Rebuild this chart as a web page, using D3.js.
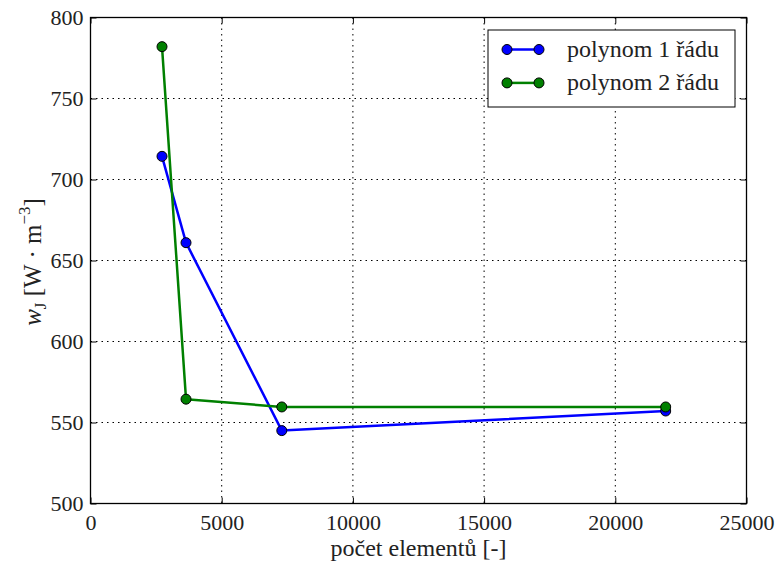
<!DOCTYPE html>
<html>
<head>
<script src="https://cdn.jsdelivr.net/npm/d3@7"></script>
</head>
<body style="margin:0">
<div id="chart"></div>
<script>
// data
var elements = [2725, 3640, 7290, 21920];
var order1 = [714.3, 661, 545, 557.1];
var order2 = [782, 564.4, 559.6, 559.6];
var seriesNames = ['polynom 1 řádu', 'polynom 2 řádu'];
var seriesColors = ['#0000ff', '#008000'];
var xTicks = [0, 5000, 10000, 15000, 20000, 25000];
var yTicks = [500, 550, 600, 650, 700, 750, 800];

var margin = { top: 17.5, left: 90.5, bottom: 66.5, right: 31.5 },
    width = 778 - margin.left - margin.right,
    height = 570 - margin.top - margin.bottom;

var root = d3.select('#chart').append('svg')
    .attr('width', 778)
    .attr('height', 570)
    .attr('font-family', 'Liberation Serif');
var svg = root.append('g')
    .attr('transform', 'translate(' + margin.left + ',' + margin.top + ')');

var x = d3.scaleLinear().domain([0, 25000]).range([0, width]);
var y = d3.scaleLinear().domain([500, 800]).range([height, 0]);

// grid (dotted)
var grid = svg.append('g');
grid.selectAll('.gx').data(xTicks.slice(1, -1)).enter().append('line')
    .attr('x1', d => x(d)).attr('x2', d => x(d))
    .attr('y1', 0).attr('y2', height);
grid.selectAll('.gy').data(yTicks.slice(1, -1)).enter().append('line')
    .attr('y1', d => y(d)).attr('y2', d => y(d))
    .attr('x1', 0).attr('x2', width);
grid.selectAll('line')
    .attr('stroke', '#000')
    .attr('stroke-width', 1)
    .attr('stroke-dasharray', '1.5,4');

// axes, ticks inside on all four sides
var tick = 6;
function styleAxis(g) {
    g.attr('font-family', 'Liberation Serif');
    g.select('.domain').remove();
    g.selectAll('.tick line').attr('stroke', '#000').attr('stroke-width', 1);
    g.selectAll('.tick text')
        .style('font-family', () => 'Liberation Serif')
        .style('font-size', '22px')
        .attr('fill', '#222');
}
svg.append('g')
    .attr('transform', 'translate(0,' + height + ')')
    .call(d3.axisBottom(x).tickValues(xTicks).tickFormat(d3.format('d')).tickSizeInner(-tick).tickPadding(11))
    .call(styleAxis);
svg.append('g')
    .call(d3.axisLeft(y).tickValues(yTicks).tickFormat(d3.format('d')).tickSizeInner(-tick).tickPadding(7))
    .call(styleAxis);
svg.append('g')
    .call(d3.axisTop(x).tickValues(xTicks).tickFormat('').tickSizeInner(-tick))
    .call(styleAxis);
svg.append('g')
    .attr('transform', 'translate(' + width + ',0)')
    .call(d3.axisRight(y).tickValues(yTicks).tickFormat('').tickSizeInner(-tick))
    .call(styleAxis);

svg.append('rect')
    .attr('width', width).attr('height', height)
    .attr('fill', 'none').attr('stroke', '#000').attr('stroke-width', 1.3);

// lines + markers
var line = d3.line().x(d => x(d[0])).y(d => y(d[1]));
[order1, order2].forEach(function (vals, i) {
    var pts = elements.map((e, j) => [e, vals[j]]);
    svg.append('path').datum(pts)
        .attr('d', line)
        .attr('fill', 'none')
        .attr('stroke', seriesColors[i])
        .attr('stroke-width', 2.5)
        .attr('stroke-linejoin', 'round');
    svg.selectAll('.m' + i).data(pts).enter().append('circle')
        .attr('cx', d => x(d[0])).attr('cy', d => y(d[1]))
        .attr('r', 5)
        .attr('fill', seriesColors[i])
        .attr('stroke', '#000').attr('stroke-width', 1);
});

// legend
var lg = svg.append('g').attr('transform', 'translate(' + (488 - margin.left) + ',' + (30 - margin.top) + ')');
lg.append('rect').attr('width', 247).attr('height', 77)
    .attr('fill', '#fff').attr('stroke', '#000').attr('stroke-width', 1);
seriesNames.forEach(function (name, i) {
    var yy = 19.5 + i * 33.4;
    lg.append('line').attr('x1', 19).attr('x2', 51).attr('y1', yy).attr('y2', yy)
        .attr('stroke', seriesColors[i]).attr('stroke-width', 2.5);
    [19, 51].forEach(function (cx) {
        lg.append('circle').attr('cx', cx).attr('cy', yy).attr('r', 5)
            .attr('fill', seriesColors[i]).attr('stroke', '#000').attr('stroke-width', 1);
    });
    lg.append('text').attr('x', 79).attr('y', yy + 7)
        .style('font-family', () => 'Liberation Serif')
        .style('font-size', '24px')
        .attr('fill', '#222')
        .text(name);
});

// axis labels
svg.append('text')
    .attr('x', 418.5 - margin.left)
    .attr('y', 556 - margin.top)
    .attr('text-anchor', 'middle')
    .style('font-family', () => 'Liberation Serif')
    .style('font-size', '24px')
    .attr('fill', '#222')
    .text('počet elementů [-]');

var yl = svg.append('text')
    .attr('transform', 'translate(' + (41 - margin.left) + ',' + (262 - margin.top) + ') rotate(-90)')
    .attr('text-anchor', 'middle')
    .style('font-family', () => 'Liberation Serif')
    .style('font-size', '25px')
    .attr('fill', '#222');
yl.append('tspan').style('font-style', 'italic').text('w');
yl.append('tspan').attr('dy', 5).style('font-size', '17px').text('J');
yl.append('tspan').attr('dy', -5).text(' [W · m');
yl.append('tspan').attr('dy', -11).style('font-size', '17px').text('−3');
yl.append('tspan').attr('dy', 11).text(']');
</script>
</body>
</html>
